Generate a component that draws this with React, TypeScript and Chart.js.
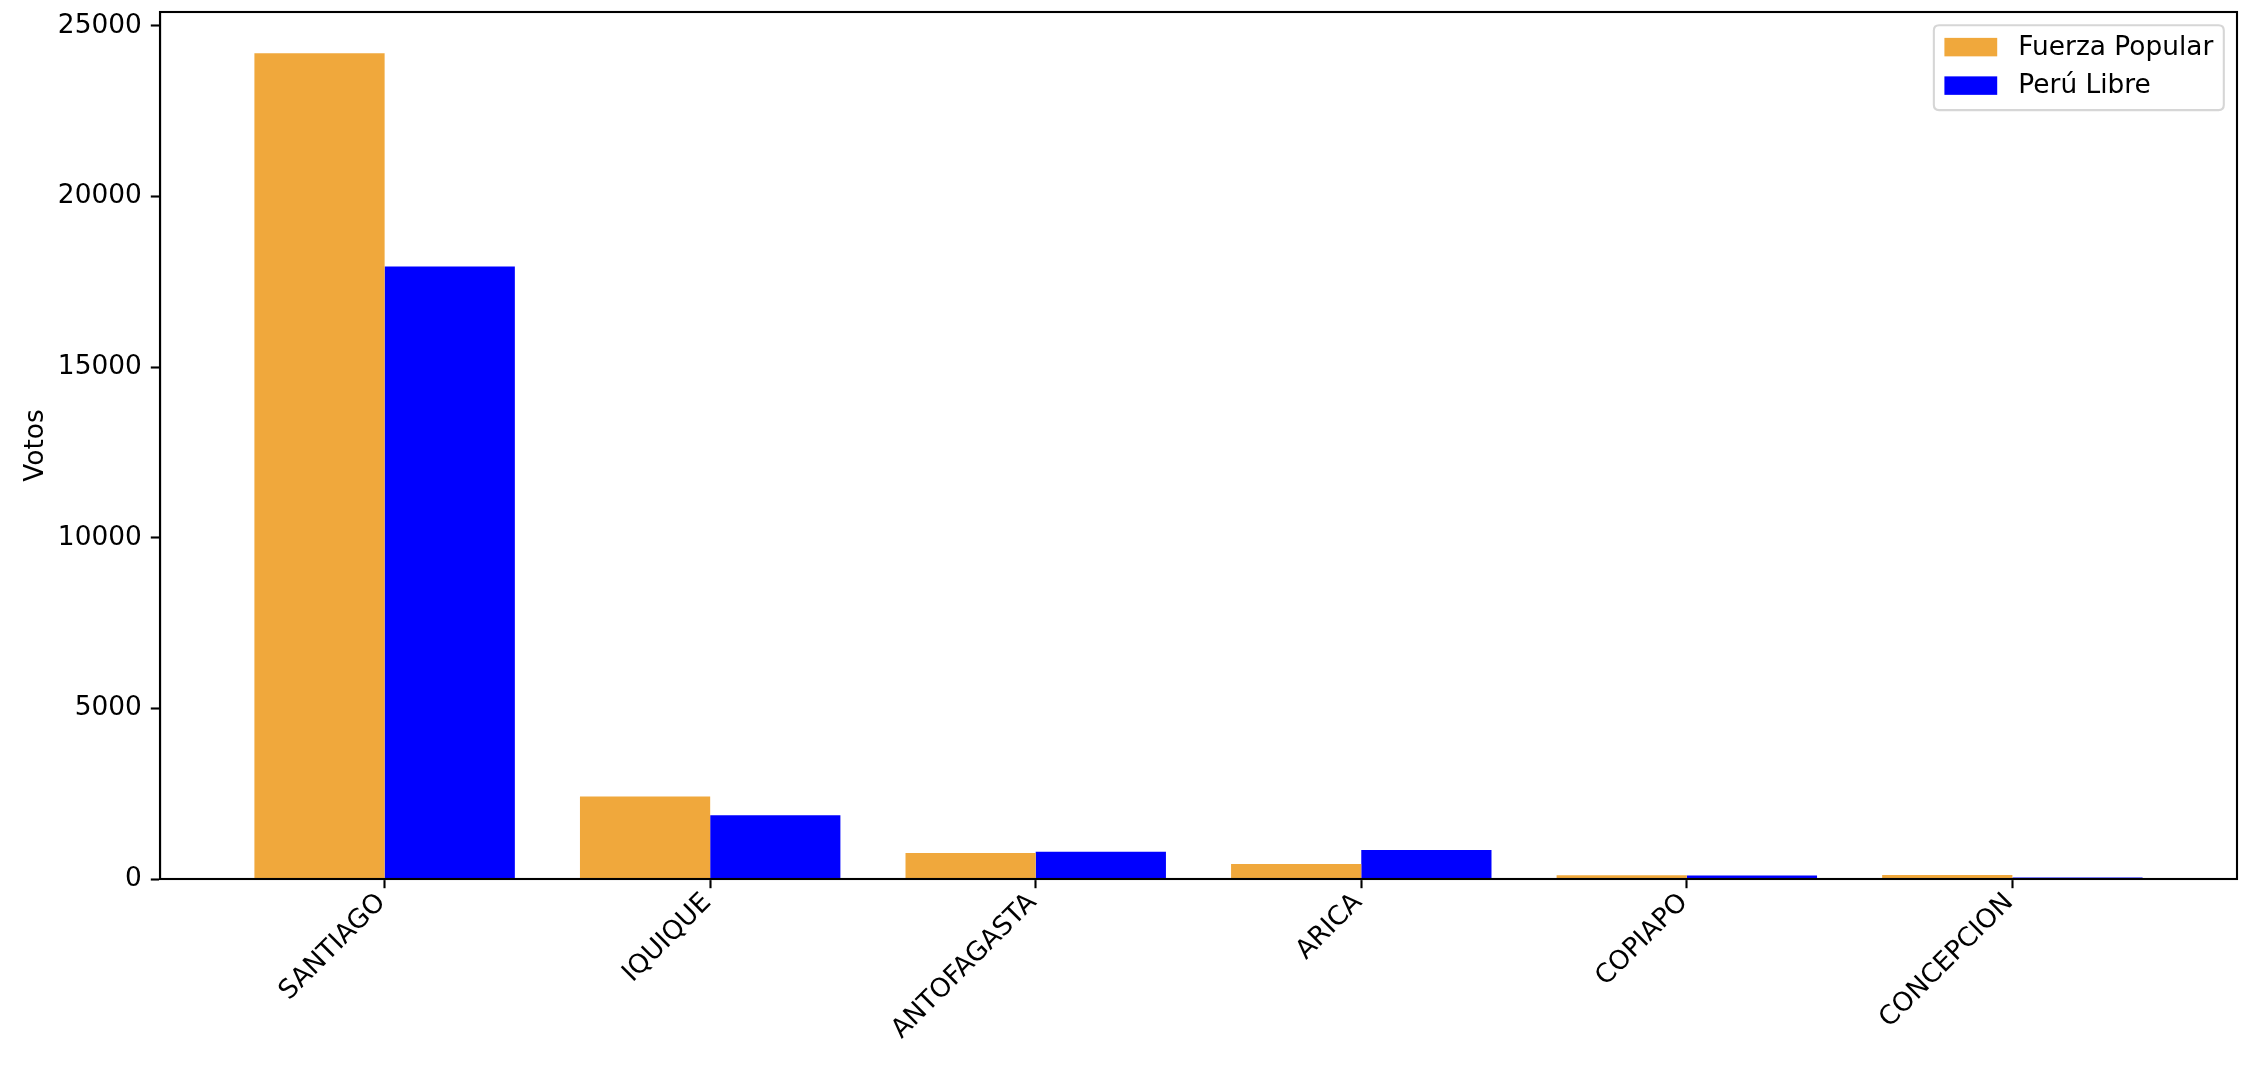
import React, { useEffect, useRef } from "react";
import { Chart, registerables } from "chart.js";

Chart.register(...registerables);

const cities = ["SANTIAGO", "IQUIQUE", "ANTOFAGASTA", "ARICA", "COPIAPO", "CONCEPCION"];
const fuerzaPopular = [24200, 2420, 760, 440, 110, 115];
const peruLibre = [17950, 1870, 795, 850, 105, 45];
const yTickValues = [0, 5000, 10000, 15000, 20000, 25000];
const seriesLabels = ["Fuerza Popular", "Perú Libre"];
const seriesColors = ["#f0a83c", "#0000ff"];

const FONT = "DejaVu Sans";
const FS = 26.4;

const framePlugin = {
  id: "frame",
  afterDraw(chart: any) {
    const { ctx, chartArea } = chart;
    ctx.save();
    ctx.strokeStyle = "#000";
    ctx.lineWidth = 2.1;
    ctx.strokeRect(chartArea.left, chartArea.top, chartArea.right - chartArea.left, chartArea.bottom - chartArea.top);
    ctx.restore();
  },
};

const legendPlugin = {
  id: "mplLegend",
  afterDraw(chart: any) {
    const { ctx, chartArea } = chart;
    ctx.save();
    ctx.font = `${FS}px '${FONT}'`;
    const datasets = chart.data.datasets;
    const pad = 0.4 * FS;
    const handleW = 2 * FS;
    const handleH = 0.7 * FS;
    const textPad = 0.8 * FS;
    const rowH = 25.3;
    const spacing = 0.5 * FS;
    const maxText = Math.max(...datasets.map((d: any) => ctx.measureText(d.label).width));
    const w = pad * 2 + handleW + textPad + maxText;
    const h = pad * 2 + rowH * datasets.length + spacing * (datasets.length - 1);
    const right = chartArea.right - 0.5 * FS;
    const top = chartArea.top + 0.5 * FS;
    const left = right - w;
    const r = 0.2 * FS;
    ctx.beginPath();
    ctx.moveTo(left + r, top);
    ctx.lineTo(right - r, top);
    ctx.quadraticCurveTo(right, top, right, top + r);
    ctx.lineTo(right, top + h - r);
    ctx.quadraticCurveTo(right, top + h, right - r, top + h);
    ctx.lineTo(left + r, top + h);
    ctx.quadraticCurveTo(left, top + h, left, top + h - r);
    ctx.lineTo(left, top + r);
    ctx.quadraticCurveTo(left, top, left + r, top);
    ctx.closePath();
    ctx.fillStyle = "rgba(255,255,255,0.8)";
    ctx.fill();
    ctx.strokeStyle = "#d6d6d6";
    ctx.lineWidth = 2.1;
    ctx.stroke();
    ctx.textBaseline = "middle";
    ctx.textAlign = "left";
    datasets.forEach((ds: any, i: number) => {
      const cy = top + pad + rowH / 2 - 1.3 + i * (rowH + spacing);
      ctx.fillStyle = ds.backgroundColor;
      ctx.fillRect(left + pad, cy - handleH / 2, handleW, handleH);
      ctx.fillStyle = "#000";
      ctx.fillText(ds.label, left + pad + handleW + textPad, cy + 1);
    });
    ctx.restore();
  },
};

export default function App() {
  const ref = useRef<HTMLCanvasElement>(null);
  useEffect(() => {
    document.body.style.margin = "0";
    const chart = new Chart(ref.current!, {
      type: "bar",
      data: {
        datasets: [
          {
            label: seriesLabels[0],
            data: fuerzaPopular.map((v, i) => ({ x: i, y: v })),
            backgroundColor: seriesColors[0],
            borderWidth: 0,
            categoryPercentage: 0.8,
            barPercentage: 1.0,
          },
          {
            label: seriesLabels[1],
            data: peruLibre.map((v, i) => ({ x: i, y: v })),
            backgroundColor: seriesColors[1],
            borderWidth: 0,
            categoryPercentage: 0.8,
            barPercentage: 1.0,
          },
        ],
      },
      options: {
        responsive: false,
        devicePixelRatio: 1,
        animation: false,
        layout: { padding: { top: 12, right: 9, left: 0, bottom: 0 } },
        plugins: {
          legend: { display: false },
          tooltip: { enabled: false },
        },
        scales: {
          x: {
            type: "linear",
            min: -0.69,
            max: cities.length - 1 + 0.69,
            offset: false,
            afterBuildTicks: (s: any) => {
              s.ticks = cities.map((_, i) => ({ value: i }));
            },
            afterFit: (s: any) => {
              s.height = 193;
              s.paddingLeft = 0;
              s.paddingRight = 0;
            },
            ticks: {
              callback: (v: any) => cities[v] ?? "",
              minRotation: 45,
              maxRotation: 45,
              autoSkip: false,
              color: "#000",
              font: { family: FONT, size: FS },
              padding: -1,
              labelOffset: -3,
            },
            grid: {
              offset: false,
              drawOnChartArea: false,
              drawTicks: true,
              tickLength: 9.2,
              tickWidth: 2.1,
              tickColor: "#000",
            },
            border: { display: true, color: "#000", width: 2.1 },
          },
          y: {
            type: "linear",
            min: 0,
            max: 25410,
            afterBuildTicks: (s: any) => {
              s.ticks = yTickValues.map((v) => ({ value: v }));
            },
            afterFit: (s: any) => {
              s.width = 160;
              s.paddingTop = 0;
              s.paddingBottom = 0;
            },
            ticks: {
              color: "#000",
              font: { family: FONT, size: FS },
              padding: 9,
              callback: (v: any) => String(v),
            },
            grid: {
              drawOnChartArea: false,
              drawTicks: true,
              tickLength: 9.2,
              tickWidth: 2.1,
              tickColor: "#000",
            },
            border: { display: true, color: "#000", width: 2.1 },
            title: {
              display: true,
              text: "Votos",
              color: "#000",
              font: { family: FONT, size: FS },
              padding: { top: 20, bottom: 0 },
            },
          },
        },
      },
      plugins: [framePlugin, legendPlugin],
    } as any);
    return () => chart.destroy();
  }, []);
  return (
    <div style={{ position: "fixed", left: 0, top: 0, width: 2246, height: 1072, background: "#fff" }}>
      <canvas ref={ref} width={2246} height={1072} style={{ display: "block", width: 2246, height: 1072 }} />
    </div>
  );
}
